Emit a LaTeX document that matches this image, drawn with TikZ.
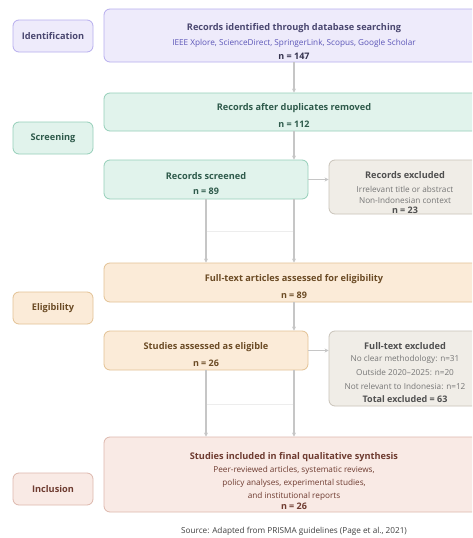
\documentclass[tikz,border=0pt]{standalone}
\usepackage{fontspec}
\setmainfont{Open Sans}
\usetikzlibrary{arrows.meta}
\definecolor{idfill}{HTML}{EEEBFB}
\definecolor{iddraw}{HTML}{B7AEEE}
\definecolor{idtext}{HTML}{4A4770}
\definecolor{idsub}{HTML}{5C56B8}
\definecolor{scfill}{HTML}{E1F3EC}
\definecolor{scdraw}{HTML}{95CFB9}
\definecolor{sctext}{HTML}{2E5A4B}
\definecolor{elfill}{HTML}{FBEBD8}
\definecolor{eldraw}{HTML}{E3C294}
\definecolor{eltext}{HTML}{6B4B25}
\definecolor{infill}{HTML}{F9EAE5}
\definecolor{indraw}{HTML}{DDB8AD}
\definecolor{intext}{HTML}{6E3B30}
\definecolor{exfill}{HTML}{F0EDE7}
\definecolor{exdraw}{HTML}{C9C3B9}
\definecolor{extext}{HTML}{505050}
\definecolor{exsub}{HTML}{767676}
\definecolor{arr}{HTML}{C6C6C6}
\definecolor{faint}{HTML}{EDEDED}
\tikzset{
  box/.style={draw, rounded corners=6pt, line width=0.8pt, inner sep=0pt},
  phase/.style={box, minimum width=80pt, minimum height=32pt, font=\fontsize{9.2}{10}\selectfont\bfseries},
  title/.style={font=\fontsize{9.2}{10}\selectfont\bfseries, inner sep=0pt},
  sub/.style={font=\fontsize{8.2}{9}\selectfont, inner sep=0pt},
  subs/.style={font=\fontsize{8.2}{9}\selectfont, inner sep=0pt},
  nval/.style={font=\fontsize{9}{10}\selectfont\bfseries, inner sep=0pt},
  flow/.style={draw=arr, line width=1.1pt, -{Stealth[length=4pt,width=4pt]}},
}
\begin{document}
\begin{tikzpicture}[x=1pt,y=-1pt]
\useasboundingbox (0,0) rectangle (472,538);
\clip (0,0) rectangle (472,538);
\fill[white] (0,0) rectangle (472,538);

% phase labels
\node[phase, fill=idfill, draw=iddraw, text=idtext] (pid) at (53,36) {Identification};
\node[phase, fill=scfill, draw=scdraw, text=sctext] (psc) at (53,138) {Screening};
\node[phase, fill=elfill, draw=eldraw, text=eltext] (pel) at (53,308) {Eligibility};
\node[phase, fill=infill, draw=indraw, text=intext] (pin) at (53,489) {Inclusion};

% main boxes
\node[box, fill=idfill, draw=iddraw, minimum width=380pt, minimum height=53pt] (b1) at (294,35.5) {};
\node[title, text=idtext] (b1t) at (294,28) {Records identified through database searching};
\node[sub, text=idsub] (b1s) at (294,43) {IEEE Xplore, ScienceDirect, SpringerLink, Scopus, Google Scholar};
\node[nval, text=idtext!70!black] (b1n) at (294,56.5) {n = 147};

\node[box, fill=scfill, draw=scdraw, minimum width=380pt, minimum height=38pt] (b2) at (294,112) {};
\node[title, text=sctext] (b2t) at (294,108) {Records after duplicates removed};
\node[nval, text=sctext] (b2n) at (294,124.5) {n = 112};

\node[box, fill=scfill, draw=scdraw, minimum width=204pt, minimum height=39pt] (b3) at (206,179.5) {};
\node[title, text=sctext] (b3t) at (206,176) {Records screened};
\node[nval, text=sctext] (b3n) at (206,191) {n = 89};

\node[box, fill=exfill, draw=exdraw, minimum width=152pt, minimum height=54pt] (e1) at (405,187) {};
\node[title, text=extext] (e1t) at (405,175) {Records excluded};
\node[subs, text=exsub] (e1a) at (405,189) {Irrelevant title or abstract};
\node[subs, text=exsub] (e1b) at (405,200.5) {Non-Indonesian context};
\node[nval, text=extext] (e1n) at (405,210) {n = 23};

\node[box, fill=elfill, draw=eldraw, minimum width=380pt, minimum height=39pt] (b4) at (294,282.5) {};
\node[title, text=eltext] (b4t) at (294,279.5) {Full-text articles assessed for eligibility};
\node[nval, text=eltext] (b4n) at (294,295.5) {n = 89};

\node[box, fill=elfill, draw=eldraw, minimum width=204pt, minimum height=39pt] (b5) at (206,350.5) {};
\node[title, text=eltext] (b5t) at (206,347.5) {Studies assessed as eligible};
\node[nval, text=eltext] (b5n) at (206,363) {n = 26};

\node[box, fill=exfill, draw=exdraw, minimum width=152pt, minimum height=75pt] (e2) at (405,368.5) {};
\node[title, text=extext] (e2t) at (405,346) {Full-text excluded};
\node[subs, text=exsub] (e2a) at (405,359) {No clear methodology: n=31};
\node[subs, text=exsub] (e2b) at (405,372.5) {Outside 2020--2025: n=20};
\node[subs, text=exsub] (e2c) at (405,386) {Not relevant to Indonesia: n=12};
\node[nval, text=extext] (e2n) at (405,399) {Total excluded = 63};

\node[box, fill=infill, draw=indraw, minimum width=380pt, minimum height=75pt] (b6) at (294,474.5) {};
\node[title, text=intext] (b6t) at (294,457) {Studies included in final qualitative synthesis};
\node[sub, text=intext] (b6a) at (294,470.5) {Peer-reviewed articles, systematic reviews,};
\node[sub, text=intext] (b6b) at (294,483.5) {policy analyses, experimental studies,};
\node[sub, text=intext] (b6c) at (294,496.5) {and institutional reports};
\node[nval, text=intext] (b6n) at (294,506) {n = 26};

\node[font=\fontsize{8.2}{9}\selectfont, text=black!75, inner sep=0pt] (src) at (294,531) {Source: Adapted from PRISMA guidelines (Page et al., 2021)};

% helper coordinates
\coordinate (h1a) at (206,231);
\coordinate (h1b) at (294,231);
\coordinate (h2a) at (206,404);
\coordinate (h2b) at (294,404);
\draw[faint, line width=1pt] (h1a) -- (h1b);
\draw[faint, line width=1pt] (h2a) -- (h2b);

% connectors
\draw[flow] (b1.south) -- (b2.north);
\draw[flow] (b2.south) -- (b2.south |- b3.north);
\draw[flow] (b3.east) -- (e1.west |- b3.east);
\draw[flow] (b3.south) -- (b3.south |- b4.north);
\draw[flow] (b3.south -| b2.south) -- (b4.north);
\draw[flow] (b4.south) -- (b4.south |- b5.north);
\draw[flow] (b5.east) -- (e2.west |- b5.east);
\draw[flow] (b5.south) -- (b5.south |- b6.north);
\draw[flow] (b5.south -| b4.south) -- (b6.north);
\end{tikzpicture}
\end{document}
